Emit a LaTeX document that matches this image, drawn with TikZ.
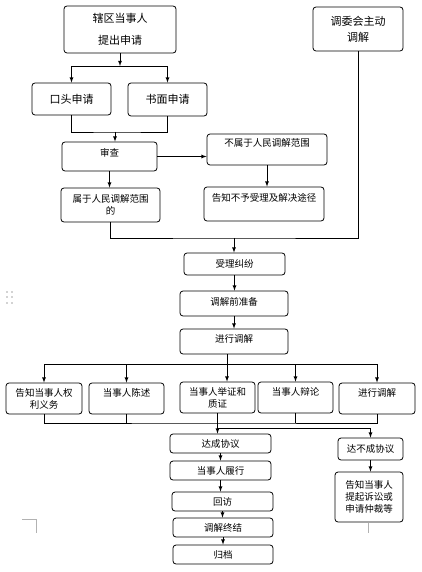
\documentclass[tikz,border=0pt]{standalone}
\usepackage{fontspec}
\newfontfamily\cjk{Noto Sans CJK SC}
\begin{document}
\begin{tikzpicture}[x=1pt, y=-1pt, >=latex, line width=0.8pt,
	box/.style={draw, rounded corners=3pt, align=center, inner sep=1pt, font=\cjk\fontsize{9.5}{12}\selectfont},
	bigbox/.style={box, font=\cjk\fontsize{11}{14}\selectfont},
	raised/.style={text depth=#1}]
	\useasboundingbox (0,0) rectangle (422,572);
	\node[bigbox, minimum width=112, minimum height=47] (apply) at (120,29.5) {辖区当事人\\[8pt]提出申请};
	\node[bigbox, minimum width=90, minimum height=44] (active) at (358,29) {调委会主动\\[2pt]调解};
	\node[bigbox, minimum width=79, minimum height=32] (oral) at (71.5,99) {口头申请};
	\node[bigbox, minimum width=79, minimum height=33] (written) at (167.5,99.5) {书面申请};
	\node[box, raised=7.8pt, minimum width=95, minimum height=29] (review) at (109.5,156.5) {审查};
	\node[box, raised=13.2pt, minimum width=120, minimum height=31] (outside) at (267,149.5) {不属于人民调解范围};
	\node[box, raised=12.5pt, minimum width=120, minimum height=34] (refuse) at (264,204) {告知不予受理及解决途径};
	\node[box, minimum width=99, minimum height=34] (inside) at (110.5,205) {属于人民调解范围\\的};
	\node[box, minimum width=101, minimum height=22] (accept) at (234.5,264) {受理纠纷};
	\node[box, raised=5pt, minimum width=108, minimum height=25] (prepare) at (234,303.5) {调解前准备};
	\node[box, raised=5pt, minimum width=108, minimum height=25] (mediate) at (234,341.5) {进行调解};
	\node[box, minimum width=76, minimum height=31] (s1) at (44,398.5) {告知当事人权\\利义务};
	\node[box, raised=12.2pt, minimum width=75, minimum height=31] (s2) at (126.5,398.5) {当事人陈述};
	\node[box, minimum width=75, minimum height=31] (s3) at (217.5,397.5) {当事人举证和\\质证};
	\node[box, raised=12.2pt, minimum width=75, minimum height=31] (s4) at (295.5,397.5) {当事人辩论};
	\node[box, raised=12.2pt, minimum width=76, minimum height=31] (s5) at (377,398.5) {进行调解};
	\node[box, minimum width=101, minimum height=19] (agree) at (220.5,443.5) {达成协议};
	\node[box, minimum width=101, minimum height=19] (perform) at (220.5,470.5) {当事人履行};
	\node[box, minimum width=101, minimum height=19] (visit) at (222.5,501.5) {回访};
	\node[box, minimum width=100, minimum height=19] (finish) at (223,527.5) {调解终结};
	\node[box, minimum width=100, minimum height=19] (archive) at (223,554.5) {归档};
	\node[box, minimum width=65, minimum height=22] (fail) at (370.5,449) {达不成协议};
	\node[box, minimum width=68, minimum height=50] (sue) at (369,497) {告知当事人\\提起诉讼或\\申请仲裁等};
	\coordinate (split) at (120,66);
	\coordinate (join) at (115,132);
	\coordinate (merge) at (234,238);
	\coordinate (fan) at (227,364);
	\coordinate (gather) at (217,423);
	\coordinate (branch) at (217.5,428);
	\draw[->] (apply) -- (split);
	\draw[->] (split) -| (oral);
	\draw[->] (split) -| (written);
	\draw (oral) |- (join) -| (written);
	\draw[->] (join) -- (join |- review.north);
	\draw[->] (review) -- (outside.west |- review);
	\draw[->] (outside) -- (outside |- refuse.north);
	\draw[->] (review) -- (review |- inside.north);
	\draw (inside) |- (merge) -| (active);
	\draw[->] (merge) -- (merge |- accept.north);
	\draw[->] (accept) -- (accept |- prepare.north);
	\draw[->] (prepare) -- (prepare |- mediate.north);
	\draw[->] (mediate.south -| fan) -- (fan |- s3.north);
	\draw (s1 |- fan) -- (s5 |- fan);
	\foreach \n in {s1,s2,s4,s5} \draw[->] (\n |- fan) -- (\n);
	\draw (s1) |- (gather) -| (s5);
	\foreach \n in {s2,s4} \draw (\n) -- (\n |- gather);
	\draw[->] (s3) -- (s3 |- agree.north);
	\draw[->] (branch) -| (fail);
	\foreach \a/\b in {agree/perform, perform/visit, visit/finish, finish/archive} \draw[->] (\a) -- (\a |- \b.north);
	\draw[->] (fail) -- (fail |- sue.north);
	\draw[gray!60, line width=0.5pt] (22,519) -- (36,519) -- (36,533);
	\draw[gray!60, line width=0.5pt] (368,523) -- (368,533);
	\foreach \y in {292,297,303} \fill[gray!70] (7,\y) circle (0.8) (12,\y) circle (0.8);
\end{tikzpicture}
\end{document}
